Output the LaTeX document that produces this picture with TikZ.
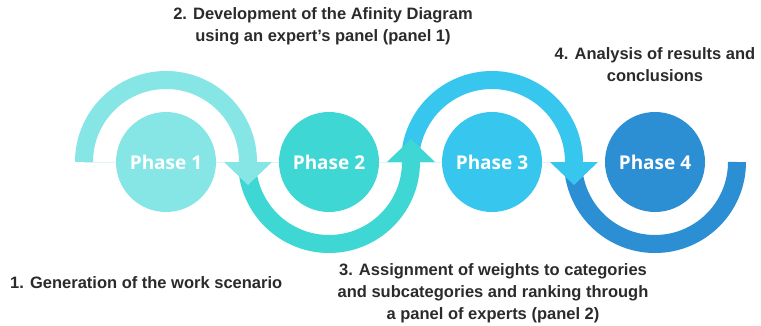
\documentclass[tikz,border=0pt]{standalone}
\usepackage{fontspec}
\setmainfont{Liberation Sans}
\newfontfamily\phasefont{Open Sans}
\newfontfamily\labelfont{Liberation Sans}
\usetikzlibrary{calc}

\definecolor{cA}{HTML}{86E6E6}
\definecolor{cB}{HTML}{3ED7D3}
\definecolor{cC}{HTML}{37C6EE}
\definecolor{cD}{HTML}{2C8ED3}
\definecolor{txt}{HTML}{2B2B2B}
\definecolor{faint}{HTML}{DDF6F7}

\tikzset{
  phase/.style={circle, fill=#1, minimum size=100pt, inner sep=0pt,
    text=white, font=\phasefont\bfseries\fontsize{19}{21}\selectfont},
  ring/.style={draw=#1, line width=18pt, line cap=butt},
  label/.style={text=txt, font=\labelfont\bfseries\fontsize{16.5}{21.8}\selectfont,
    align=center, inner sep=0pt},
}

\begin{document}
\begin{tikzpicture}[x=1pt,y=1pt]
  \useasboundingbox[fill=white] (0,0) rectangle (761,325);

  % phase centres
  \coordinate (c1) at (166,163);
  \coordinate (c2) at (329,163);
  \coordinate (c3) at (492,163);
  \coordinate (c4) at (655,163);

  % thin guide line along the axis
  \draw[faint, line width=0.8pt] ($(c1)+(-82,0)$) -- ($(c3)+(82,0)$);

  % phase 4: lower half ring with flat end
  \draw[ring=cD] ($(c4)+(-82,0)$) arc[start angle=180, end angle=360, radius=82];

  % phase 3: upper half ring ending in a downward arrow
  \draw[ring=cC] ($(c3)+(-82,0)$) arc[start angle=180, end angle=0, radius=82];
  \fill[cC] ($(c3)+(58,0)$) -- ($(c3)+(106,0)$) -- ($(c3)+(82,-23)$) -- cycle;

  % phase 2: lower half ring ending in an upward arrow
  \draw[ring=cB] ($(c2)+(-82,0)$) arc[start angle=180, end angle=360, radius=82];
  \fill[cB] ($(c2)+(58,0)$) -- ($(c2)+(106,0)$) -- ($(c2)+(82,23)$) -- cycle;

  % phase 1: upper half ring ending in a downward arrow
  \draw[ring=cA] ($(c1)+(-82,0)$) arc[start angle=180, end angle=0, radius=82];
  \fill[cA] ($(c1)+(58,0)$) -- ($(c1)+(106,0)$) -- ($(c1)+(82,-23)$) -- cycle;

  % phase circles
  \node[phase=cA] (p1) at (c1) {Phase 1};
  \node[phase=cB] (p2) at (c2) {Phase 2};
  \node[phase=cC] (p3) at (c3) {Phase 3};
  \node[phase=cD] (p4) at (c4) {Phase 4};

  % descriptions
  \node[label] (l2) at (323,299) {2. Development of the Afinity Diagram\\using an expert’s panel (panel 1)};
  \node[label] (l4) at (655,260) {4. Analysis of results and\\conclusions};
  \node[label, anchor=west] (l1) at (10,42) {1. Generation of the work scenario};
  \node[label] (l3) at (493,31.5) {3. Assignment of weights to categories\\and subcategories and ranking through\\a panel of experts (panel 2)};
\end{tikzpicture}
\end{document}
